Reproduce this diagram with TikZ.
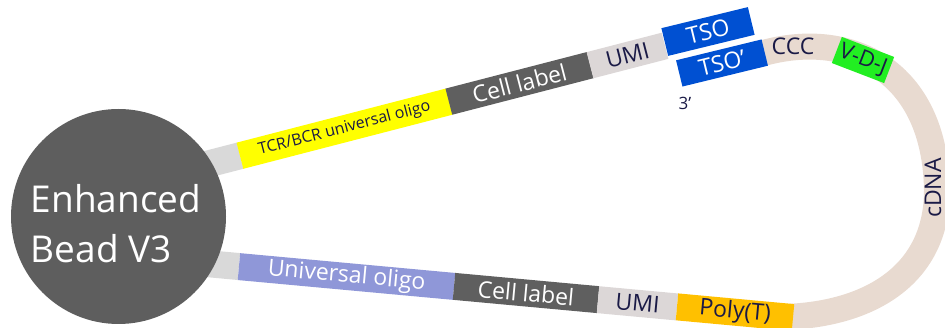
\documentclass[tikz,border=0pt]{standalone}
\usepackage{fontspec}
\setmainfont{Open Sans}
\definecolor{navy}{HTML}{1A1A46}
\definecolor{beadgray}{HTML}{5E5E5E}
\definecolor{startgray}{HTML}{D9D9D9}
\definecolor{umigray}{HTML}{DCD7D7}
\definecolor{tcryellow}{HTML}{FFFF00}
\definecolor{cellgray}{HTML}{5F5F5F}
\definecolor{tsoblue}{HTML}{0050D2}
\definecolor{vdjgreen}{HTML}{22EE22}
\definecolor{cdnabeige}{HTML}{E8DAD0}
\definecolor{unipurple}{HTML}{8F97D8}
\definecolor{polyorange}{HTML}{FFC000}
\begin{document}
\begin{tikzpicture}[x=1pt,y=-1pt,
  seg/.style={rectangle, inner sep=0pt, outer sep=0pt, minimum height=27pt,
    font=\fontsize{23}{25}\selectfont, text=navy},
  up/.style={seg, rotate=14.5},
  low/.style={seg, rotate=-5.26},
  lbl/.style={inner sep=0pt, font=\fontsize{23}{25}\selectfont, text=navy}]
\path[use as bounding box, clip] (0,0) rectangle (945,328);
% cDNA loop
\draw[cdnabeige, line width=26pt] (740,58.5) -- (765,52.6)
  .. controls (850,30) and (935,70) .. (937,190)
  .. controls (937,275) and (870,312) .. (793,316.6) -- (775,318);
% upper strand
\node[up, fill=startgray, minimum width=52pt] (ug) at (215,162.2) {};
\node[up, fill=tcryellow, minimum width=216pt, font=\fontsize{16}{18}\selectfont] (tcr) at (344.5,128.7) {TCR/BCR universal oligo};
\node[up, fill=cellgray, minimum width=146pt, text=white] (ucell) at (519.5,83.4) {Cell label};
\node[up, fill=umigray, minimum width=77.5pt] (uumi) at (627.5,55.5) {UMI};
\node[seg, rotate=13.7, fill=tsoblue, minimum width=89pt, minimum height=28.5pt, text=white] (tso) at (708,31.5) {TSO};
\node[seg, rotate=13.7, fill=tsoblue, minimum width=88pt, text=white] (tsop) at (722,63) {TSO’};
\node[lbl, font=\fontsize{17}{19}\selectfont] (three) at (685,103) {3’};
\node[lbl] (ccc) at (793,46) {CCC};
\node[seg, rotate=-21, fill=vdjgreen, minimum width=56pt, minimum height=28pt, font=\fontsize{22}{24}\selectfont] (vdj) at (863,60) {V-D-J};
\node[lbl, rotate=90] (cdna) at (933,188) {cDNA};
% lower strand
\node[low, fill=startgray, minimum width=49pt] (lg) at (214.5,264.3) {};
\node[low, fill=unipurple, minimum width=216pt, text=white] (uni) at (346.5,276.5) {Universal oligo};
\node[low, fill=cellgray, minimum width=144.6pt, text=white] (lcell) at (526,293) {Cell label};
\node[low, fill=umigray, minimum width=79.3pt] (lumi) at (637.5,303.3) {UMI};
\node[low, fill=polyorange, minimum width=116.5pt] (poly) at (735,312.2) {Poly(T)};
% bead
\fill[beadgray] (118.5,216.5) circle[radius=107.5pt];
\node[inner sep=0pt, align=left, text=white, font=\fontsize{37}{50}\selectfont] (bead) at (116,224) {Enhanced\\Bead V3};
\end{tikzpicture}
\end{document}
